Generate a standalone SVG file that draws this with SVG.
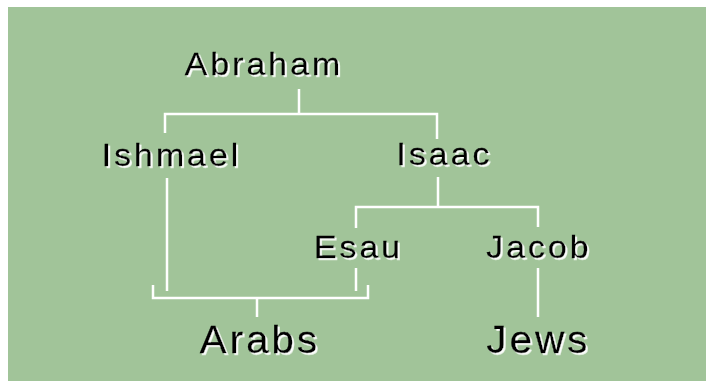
<svg xmlns="http://www.w3.org/2000/svg" width="712" height="388" viewBox="0 0 712 388">
<defs>
<filter id="sh" x="-10%" y="-20%" width="130%" height="150%">
<feDropShadow dx="1.8" dy="1.8" stdDeviation="0.4" flood-color="#ffffff" flood-opacity="0.95"/>
</filter>
<style>
.t{font-family:"Liberation Sans",Arial,sans-serif;fill:#000;stroke:#000;stroke-width:0.25;text-anchor:middle;filter:url(#sh)}
.m{font-size:32px;letter-spacing:2.8px}
.l{font-size:38px;letter-spacing:2.9px}
.c{fill:none;stroke:#fff;stroke-width:2.5;stroke-linecap:butt}
</style>
</defs>
<rect width="712" height="388" fill="#fff"/>
<rect x="8" y="7" width="698" height="374" fill="#a1c499"/>
<g id="connectors">
<path class="c" d="M299 89V114M165 133V114H437V139"/>
<path class="c" d="M167 178V291M438 177V207M356 228V207H538V227"/>
<path class="c" d="M356 268V291M153 285V298H368V285M257 298V317"/>
<path class="c" d="M538 268V317"/>
</g>
<g id="abraham"><text class="t m" transform="translate(264 75) scale(1.06 1)">Abraham</text></g>
<g id="ishmael"><text class="t m" transform="translate(171.5 166) scale(1.06 1)">Ishmael</text></g>
<g id="isaac"><text class="t m" transform="translate(444.5 165) scale(1.06 1)">Isaac</text></g>
<g id="esau"><text class="t m" transform="translate(358.5 258) scale(1.06 1)">Esau</text></g>
<g id="jacob"><text class="t m" transform="translate(539 258) scale(1.06 1)">Jacob</text></g>
<g id="arabs"><text class="t l" transform="translate(260 353) scale(1.06 1)">Arabs</text></g>
<g id="jews"><text class="t l" transform="translate(538.5 353) scale(1.06 1)">Jews</text></g>
</svg>
